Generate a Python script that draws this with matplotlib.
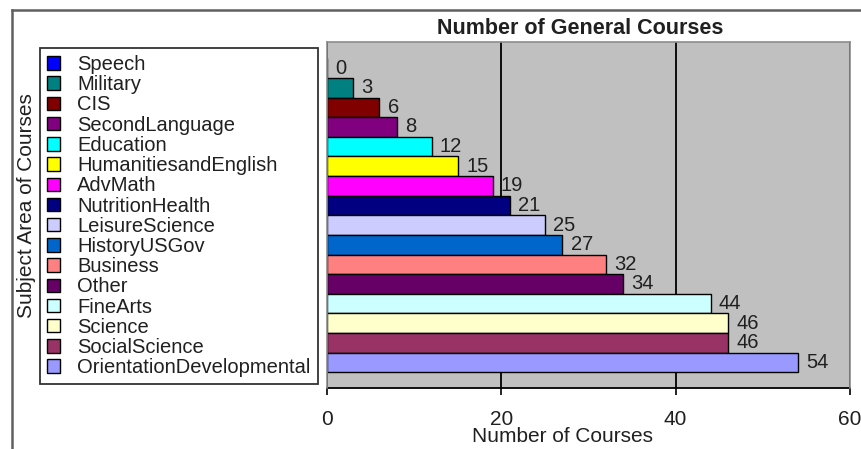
import matplotlib
matplotlib.use("Agg")
import matplotlib.pyplot as plt
from matplotlib.lines import Line2D
import numpy as np

plt.rcParams['font.family'] = ['Liberation Sans', 'DejaVu Sans']

categories = ["Speech", "Military", "CIS", "SecondLanguage", "Education",
              "HumanitiesandEnglish", "AdvMath", "NutritionHealth",
              "LeisureScience", "HistoryUSGov", "Business", "Other",
              "FineArts", "Science", "SocialScience", "OrientationDevelopmental"]
values = [0, 3, 6, 8, 12, 15, 19, 21, 25, 27, 32, 34, 44, 46, 46, 54]
colors = ["#0000FF", "#008080", "#800000", "#800080", "#00FFFF", "#FFFF00",
          "#FF00FF", "#000080", "#CCCCFF", "#0066CC", "#FF8080", "#660066",
          "#CCFFFF", "#FFFFCC", "#993366", "#9999FF"]
xticks = [0, 20, 40, 60]

W, H = 862, 449
fig = plt.figure(figsize=(W / 100, H / 100), dpi=100)
ax = fig.add_axes([327 / W, 1 - 388 / H, (850 - 327) / W, (388 - 42) / H])
ax.set_facecolor("#C0C0C0")

pos = np.arange(len(categories))
bars = ax.barh(pos, values, height=1.0, color=colors, edgecolor="black",
               linewidth=1.0, zorder=3)
ax.bar_label(bars, labels=[str(v) for v in values], padding=6, fontsize=14.5,
             color="#202020")

ax.set_xlim(0, 60)
ax.set_ylim(16.3, -1.33)
ax.set_xticks(xticks)
ax.set_yticks([])
ax.tick_params(axis="x", direction="out", length=5, width=1.2, pad=11,
               labelsize=15, colors="black", labelcolor="#202020")
ax.grid(axis="x", color="black", linewidth=1.3, zorder=1)
for s in ["top", "left", "right"]:
    ax.spines[s].set_color("#8c8c8c")
    ax.spines[s].set_linewidth(1.2)
    ax.spines[s].set_zorder(4)
ax.spines["bottom"].set_color("black")
ax.spines["bottom"].set_linewidth(1.3)

leg = fig.legend(handles=list(bars), labels=categories, loc="upper left",
                 bbox_to_anchor=(40 / W, 1 - 48 / H), borderaxespad=0,
                 fontsize=14.5, labelspacing=0.06, handlelength=0.65,
                 handleheight=0.65, handletextpad=0.85, borderpad=0.35,
                 fancybox=False, frameon=True, edgecolor="black")
leg.get_frame().set_linewidth(1.3)
for t in leg.get_texts():
    t.set_color("#202020")

fig.text(580 / W, 1 - 28.5 / H, "Number of General Courses", ha="center",
         va="center", fontsize=15.5, fontweight="bold", color="#202020")
fig.text(563 / W, 1 - 436 / H, "Number of Courses", ha="center", va="center",
         fontsize=15, color="#202020")
fig.text(27 / W, 1 - 206 / H, "Subject Area of Courses", ha="center",
         va="center", rotation=90, fontsize=15, color="#202020")

fig.add_artist(Line2D([12 / W, 1.0], [1 - 10 / H, 1 - 10 / H],
                      transform=fig.transFigure, color="#606060", linewidth=1.8))
fig.add_artist(Line2D([12 / W, 12 / W], [0.0, 1 - 10 / H],
                      transform=fig.transFigure, color="#606060", linewidth=1.8))

fig.savefig("out.png", dpi=100)
